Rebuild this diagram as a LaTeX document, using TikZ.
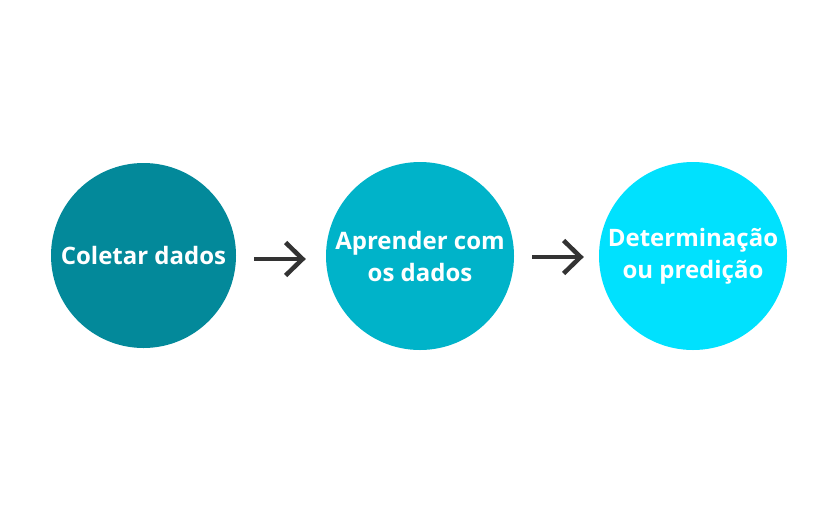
\documentclass[tikz,border=0pt]{standalone}
\usepackage{fontspec}
\setmainfont{Open Sans}
\usetikzlibrary{arrows.meta}
\definecolor{tealdark}{HTML}{03899A}
\definecolor{tealmid}{HTML}{00B3C9}
\definecolor{cyanlight}{HTML}{00E1FE}
\definecolor{arrowgray}{HTML}{333333}
\tikzset{
  etapa/.style={circle,minimum size=188pt,inner sep=0pt,text=white,align=center,
    font=\fontsize{24}{32}\selectfont\bfseries},
  seta/.style={-{Straight Barb[length=17pt,width=33pt]},line width=4.5pt,color=arrowgray}
}
\begin{document}
\begin{tikzpicture}[x=1pt,y=-1pt]
			\useasboundingbox (0,0) rectangle (840,512);
			\node [etapa,fill=tealdark,minimum size=185pt] (coletar) at (143.5,255.5) {Coletar dados};
			\node [etapa,fill=tealmid] (aprender) at (420,256) {Aprender com\\os dados};
			\node [etapa,fill=cyanlight] (determinar) at (693,256) {Determinação\\ou predição};
			\draw[seta,shorten <=18pt,shorten >=20pt] ([yshift=-3.5pt]coletar.east)--([yshift=-3pt]aprender.west);
			\draw[seta,shorten <=18pt,shorten >=15pt] ([yshift=-1pt]aprender.east)--([yshift=-1pt]determinar.west);
			\end{tikzpicture}
\end{document}
